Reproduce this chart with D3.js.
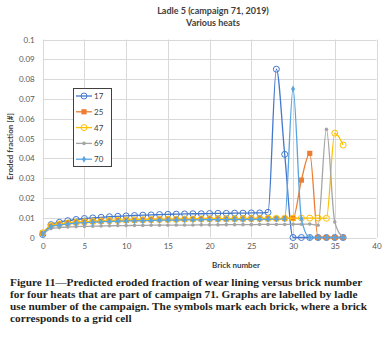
<!DOCTYPE html>
<html>
<head>
<meta charset="utf-8">
<script src="https://cdn.jsdelivr.net/npm/d3@7"></script>
<style>
  body { margin: 0; background: #fff; }
  svg { display: block; }
  .axisLbl text { font-family: Lato, "Open Sans", sans-serif; font-size: 8px; fill: #595959; }
</style>
</head>
<body>
<div id="chart"></div>
<script>
// brick index along the lining
var bricks = d3.range(0, 37);

var heats = ["17", "25", "47", "69", "70"];

// eroded fraction per brick, one array per heat
var e17 = [0.0015, 0.0065, 0.0077, 0.0085, 0.0091, 0.0096, 0.0099, 0.0102, 0.0105, 0.0107,
           0.0109, 0.0111, 0.0113, 0.0114, 0.0116, 0.0117, 0.0118, 0.0119, 0.012, 0.012,
           0.0121, 0.0122, 0.0122, 0.0123, 0.0123, 0.0124, 0.0124, 0.0127, 0.085, 0.042,
           0, 0, 0, 0, 0, 0, 0];
var e25 = [0.0022, 0.0058, 0.0066, 0.0071, 0.0075, 0.0078, 0.008, 0.0082, 0.0084, 0.0085,
           0.0086, 0.0087, 0.0088, 0.0089, 0.009, 0.009, 0.0091, 0.0091, 0.0092, 0.0092,
           0.0093, 0.0093, 0.0093, 0.0094, 0.0094, 0.0094, 0.0095, 0.0095, 0.0095, 0.0096,
           0.0097, 0.029, 0.0425, 0, 0, 0, 0];
var e47 = [0.0024, 0.006, 0.0068, 0.0073, 0.0077, 0.008, 0.0082, 0.0084, 0.0086, 0.0087,
           0.0088, 0.0089, 0.009, 0.0091, 0.0091, 0.0092, 0.0092, 0.0093, 0.0093, 0.0094,
           0.0094, 0.0095, 0.0095, 0.0095, 0.0096, 0.0096, 0.0096, 0.0097, 0.0097, 0.0097,
           0.0098, 0.0098, 0.0098, 0.0098, 0.0097, 0.0527, 0.0467];
var e69 = [0.0015, 0.0045, 0.005, 0.0053, 0.0055, 0.0056, 0.0057, 0.0058, 0.0059, 0.006,
           0.006, 0.0061, 0.0061, 0.0062, 0.0062, 0.0062, 0.0063, 0.0063, 0.0063, 0.0064,
           0.0064, 0.0064, 0.0065, 0.0065, 0.0065, 0.0065, 0.0066, 0.0066, 0.0066, 0.0066,
           0.0067, 0.0067, 0.0068, 0.0062, 0.0546, 0.0078, 0];
var e70 = [0.0018, 0.0055, 0.0063, 0.0068, 0.0072, 0.0075, 0.0077, 0.0079, 0.0081, 0.0082,
           0.0083, 0.0084, 0.0085, 0.0086, 0.0087, 0.0088, 0.0088, 0.0089, 0.0089, 0.009,
           0.009, 0.009, 0.0091, 0.0091, 0.0091, 0.0092, 0.0092, 0.0092, 0.0093, 0.0093,
           0.075, 0.0095, 0, 0, 0, 0, 0];

var xTicks = [0, 5, 10, 15, 20, 25, 30, 35, 40];
var yTicks = [0, 0.01, 0.02, 0.03, 0.04, 0.05, 0.06, 0.07, 0.08, 0.09, 0.1];

var captionLines = [
  "Figure 11\u2014Predicted eroded fraction of wear lining versus brick number",
  "for four heats that are part of campaign 71. Graphs are labelled by ladle",
  "use number of the campaign. The symbols mark each brick, where a brick",
  "corresponds to a grid cell"
];

var seriesVals = [e17, e25, e47, e69, e70];
var colors = ["#4478cc", "#ed7d31", "#ffc000", "#a5a5a5", "#5aa5e0"];
var markerKind = ["openCircle", "square", "openCircle", "dot", "diamond"];

var width = 388, height = 340;
var plot = {left: 42.7, right: 376.5, top: 39.5, bottom: 237.5};

var svg = d3.select("#chart").append("svg")
    .attr("width", width)
    .attr("height", height);

var x = d3.scaleLinear().domain([0, 40]).range([plot.left, plot.right]);
var y = d3.scaleLinear().domain([0, 0.1]).range([plot.bottom, plot.top]);

// gridlines
svg.append("g")
    .selectAll("line.h")
    .data(yTicks)
    .join("line")
    .attr("x1", plot.left).attr("x2", plot.right)
    .attr("y1", d => Math.round(y(d)) + 0.5).attr("y2", d => Math.round(y(d)) + 0.5)
    .attr("stroke", "#d9d9d9").attr("stroke-width", 1);
svg.append("g")
    .selectAll("line.v")
    .data(xTicks)
    .join("line")
    .attr("y1", plot.top).attr("y2", plot.bottom)
    .attr("x1", d => Math.round(x(d)) + 0.5).attr("x2", d => Math.round(x(d)) + 0.5)
    .attr("stroke", "#d9d9d9").attr("stroke-width", 1);

// axes (labels only)
var yAxis = svg.append("g")
    .attr("class", "axisLbl")
    .attr("transform", "translate(" + plot.left + ",0)")
    .call(d3.axisLeft(y).tickValues(yTicks).tickFormat(d => d3.format("~g")(d)).tickSize(0).tickPadding(8));
yAxis.select(".domain").remove();

var xAxis = svg.append("g")
    .attr("class", "axisLbl")
    .attr("transform", "translate(0," + plot.bottom + ")")
    .call(d3.axisBottom(x).tickValues(xTicks).tickSize(0).tickPadding(6));
xAxis.select(".domain").remove();

// titles
svg.append("text")
    .attr("x", 213).attr("y", 14)
    .attr("text-anchor", "middle")
    .style("font-family", "Lato, sans-serif").style("font-size", "9px").style("font-weight", "bold")
    .style("fill", "#404040")
    .text("Ladle 5 (campaign 71, 2019)");
svg.append("text")
    .attr("x", 213).attr("y", 26)
    .attr("text-anchor", "middle")
    .style("font-family", "Lato, sans-serif").style("font-size", "9px").style("font-weight", "bold")
    .style("fill", "#404040")
    .text("Various heats");

svg.append("text")
    .attr("transform", "translate(13," + ((plot.top + plot.bottom) / 2 + 8) + ") rotate(-90)")
    .attr("text-anchor", "middle")
    .style("font-family", "Lato, sans-serif").style("font-size", "8px").style("font-weight", "bold")
    .style("fill", "#404040")
    .text("Eroded fraction [#]");

svg.append("text")
    .attr("x", 236).attr("y", 268)
    .attr("text-anchor", "middle")
    .style("font-family", "Lato, sans-serif").style("font-size", "8px").style("font-weight", "bold")
    .style("fill", "#404040")
    .text("Brick number");

function drawMarker(g, kind, color, cx, cy) {
    if (kind == "openCircle") {
        g.append("circle").attr("cx", cx).attr("cy", cy).attr("r", 3)
            .attr("fill", "none").attr("stroke", color).attr("stroke-width", 1);
    } else if (kind == "square") {
        g.append("rect").attr("x", cx - 2.6).attr("y", cy - 2.6).attr("width", 5.2).attr("height", 5.2)
            .attr("fill", color);
    } else if (kind == "dot") {
        g.append("circle").attr("cx", cx).attr("cy", cy).attr("r", 1.8).attr("fill", color);
    } else {
        g.append("path").attr("d", d3.symbol(d3.symbolDiamond, 14)())
            .attr("transform", "translate(" + cx + "," + cy + ")")
            .attr("fill", color);
    }
}

// series
var line = d3.line()
    .x(d => x(d[0]))
    .y(d => y(d[1]))
    .curve(d3.curveMonotoneX);

seriesVals.forEach(function(vals, i) {
    var pts = bricks.map((b, j) => [b, vals[j]]);
    var g = svg.append("g");
    g.append("path")
        .datum(pts)
        .attr("d", line)
        .attr("fill", "none")
        .attr("stroke", colors[i])
        .attr("stroke-width", 1.3);
    pts.forEach(function(p) {
        drawMarker(g, markerKind[i], colors[i], x(p[0]), y(p[1]));
    });
});

// legend
var leg = svg.append("g").attr("transform", "translate(73.5,88.5)");
leg.append("rect")
    .attr("width", 38).attr("height", 78)
    .attr("fill", "#fff").attr("stroke", "#404040").attr("stroke-width", 1);
heats.forEach(function(h, i) {
    var ly = 7.5 + i * 15.8;
    var lg = leg.append("g");
    lg.append("line").attr("x1", 2.5).attr("x2", 18.5).attr("y1", ly).attr("y2", ly)
        .attr("stroke", colors[i]).attr("stroke-width", 1.3);
    drawMarker(lg, markerKind[i], colors[i], 10.5, ly);
    lg.append("text").attr("x", 20.5).attr("y", ly + 3)
        .style("font-family", "Lato, sans-serif").style("font-size", "8px")
        .style("fill", "#404040")
        .text(h);
});

// caption
svg.append("g")
    .selectAll("text")
    .data(captionLines)
    .join("text")
    .attr("x", 10)
    .attr("y", (d, i) => 285.5 + i * 12)
    .style("font-family", "'Liberation Serif', serif")
    .style("font-size", "11.3px")
    .style("font-weight", "bold")
    .style("fill", "#231f20")
    .text(d => d);
</script>
</body>
</html>
